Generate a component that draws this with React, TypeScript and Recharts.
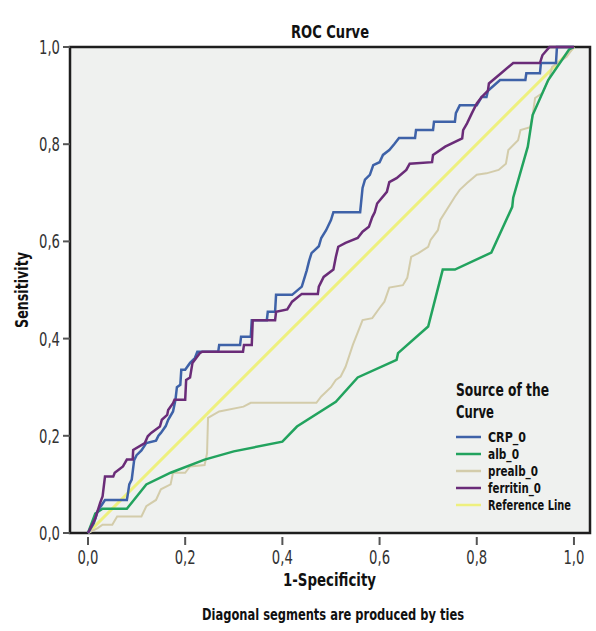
import { LineChart, Line, XAxis, YAxis, CartesianGrid, ReferenceArea } from "recharts";

// ROC points as [1-specificity, sensitivity]
const crpPoints: [number, number][] = [
  [0, 0], [0.012, 0.02], [0.02, 0.045], [0.035, 0.068], [0.08, 0.068], [0.082, 0.08],
  [0.085, 0.1], [0.09, 0.11], [0.095, 0.15], [0.1, 0.16], [0.11, 0.17], [0.12, 0.185],
  [0.14, 0.19], [0.145, 0.2], [0.15, 0.206], [0.16, 0.22], [0.165, 0.233], [0.175, 0.25],
  [0.18, 0.274], [0.183, 0.3], [0.19, 0.305], [0.192, 0.336], [0.2, 0.336], [0.21, 0.35],
  [0.22, 0.36], [0.225, 0.373], [0.268, 0.373], [0.27, 0.387], [0.313, 0.387], [0.315, 0.404],
  [0.335, 0.404], [0.337, 0.438], [0.368, 0.438], [0.37, 0.455], [0.385, 0.455], [0.387, 0.49],
  [0.42, 0.49], [0.44, 0.507], [0.45, 0.54], [0.455, 0.56], [0.46, 0.576], [0.475, 0.59],
  [0.48, 0.607], [0.49, 0.623], [0.5, 0.644], [0.505, 0.66], [0.56, 0.66], [0.565, 0.71],
  [0.57, 0.727], [0.58, 0.737], [0.587, 0.757], [0.6, 0.763], [0.607, 0.778], [0.62, 0.788],
  [0.63, 0.8], [0.64, 0.813], [0.673, 0.813], [0.675, 0.829], [0.71, 0.829], [0.712, 0.846],
  [0.755, 0.846], [0.757, 0.864], [0.765, 0.88], [0.8, 0.88], [0.81, 0.897], [0.82, 0.897],
  [0.823, 0.91], [0.848, 0.932], [0.9, 0.932], [0.902, 0.946], [0.93, 0.946], [0.932, 0.967],
  [0.963, 0.967], [0.965, 1], [1, 1],
];

const albPoints: [number, number][] = [
  [0, 0], [0.015, 0.04], [0.03, 0.05], [0.08, 0.05], [0.12, 0.1], [0.17, 0.124],
  [0.24, 0.151], [0.3, 0.168], [0.4, 0.188], [0.43, 0.219], [0.51, 0.27], [0.555, 0.32],
  [0.635, 0.356], [0.638, 0.37], [0.7, 0.425], [0.73, 0.542], [0.755, 0.542], [0.83, 0.577],
  [0.873, 0.671], [0.875, 0.69], [0.905, 0.795], [0.915, 0.86], [0.947, 0.932], [0.99, 0.995],
  [1, 1],
];

const prealbPoints: [number, number][] = [
  [0, 0], [0.02, 0.01], [0.03, 0.017], [0.05, 0.017], [0.06, 0.034], [0.11, 0.034],
  [0.12, 0.055], [0.14, 0.068], [0.15, 0.09], [0.17, 0.1], [0.175, 0.124], [0.2, 0.124],
  [0.21, 0.137], [0.24, 0.14], [0.245, 0.164], [0.247, 0.237], [0.27, 0.25], [0.32, 0.26],
  [0.335, 0.268], [0.47, 0.268], [0.48, 0.281], [0.5, 0.3], [0.51, 0.315], [0.52, 0.322],
  [0.53, 0.342], [0.545, 0.387], [0.56, 0.425], [0.565, 0.438], [0.585, 0.442], [0.6, 0.463],
  [0.61, 0.476], [0.62, 0.505], [0.648, 0.51], [0.657, 0.525], [0.665, 0.568], [0.68, 0.576],
  [0.7, 0.589], [0.705, 0.603], [0.72, 0.623], [0.725, 0.644], [0.755, 0.692], [0.765, 0.706],
  [0.78, 0.72], [0.8, 0.737], [0.82, 0.74], [0.845, 0.747], [0.86, 0.76], [0.865, 0.788],
  [0.885, 0.808], [0.89, 0.829], [0.91, 0.835], [0.915, 0.86], [0.92, 0.895], [0.935, 0.905],
  [0.95, 0.938], [0.955, 0.959], [0.985, 0.98], [1, 1],
];

const ferritinPoints: [number, number][] = [
  [0, 0], [0.015, 0.03], [0.025, 0.062], [0.03, 0.075], [0.035, 0.116], [0.052, 0.116],
  [0.055, 0.124], [0.072, 0.137], [0.08, 0.151], [0.092, 0.151], [0.093, 0.171], [0.117, 0.185],
  [0.123, 0.199], [0.13, 0.206], [0.148, 0.219], [0.152, 0.233], [0.163, 0.243], [0.165, 0.253],
  [0.175, 0.267], [0.178, 0.274], [0.2, 0.274], [0.202, 0.315], [0.21, 0.32], [0.215, 0.35],
  [0.23, 0.37], [0.235, 0.373], [0.319, 0.373], [0.321, 0.387], [0.337, 0.387], [0.339, 0.438],
  [0.385, 0.438], [0.387, 0.455], [0.41, 0.46], [0.42, 0.476], [0.44, 0.492], [0.473, 0.492],
  [0.475, 0.507], [0.485, 0.527], [0.505, 0.542], [0.51, 0.568], [0.515, 0.589], [0.53, 0.597],
  [0.555, 0.607], [0.565, 0.62], [0.578, 0.63], [0.585, 0.65], [0.59, 0.66], [0.595, 0.678],
  [0.615, 0.702], [0.62, 0.722], [0.635, 0.73], [0.655, 0.747], [0.662, 0.76], [0.708, 0.763],
  [0.71, 0.778], [0.735, 0.795], [0.77, 0.812], [0.772, 0.829], [0.78, 0.843], [0.79, 0.864],
  [0.8, 0.884], [0.81, 0.897], [0.823, 0.91], [0.825, 0.925], [0.85, 0.946], [0.875, 0.967],
  [0.93, 0.967], [0.935, 0.983], [0.948, 0.998], [0.95, 1], [1, 1],
];

const referencePoints: [number, number][] = [[0, 0], [1, 1]];

const xTicks = [0, 0.2, 0.4, 0.6, 0.8, 1];
const yTicks = [0, 0.2, 0.4, 0.6, 0.8, 1];

const toRows = (pts: [number, number][]) => pts.map(([x, y]) => ({ x, y }));

// draw order: reference underneath, ferritin on top
const series = [
  { name: "Reference Line", color: "#eef07e", width: 3, data: toRows(referencePoints) },
  { name: "prealb_0", color: "#d3ccaa", width: 2, data: toRows(prealbPoints) },
  { name: "alb_0", color: "#22a35e", width: 2.5, data: toRows(albPoints) },
  { name: "CRP_0", color: "#3e62a8", width: 2.5, data: toRows(crpPoints) },
  { name: "ferritin_0", color: "#6a2c78", width: 2.5, data: toRows(ferritinPoints) },
];
const legendOrder = ["CRP_0", "alb_0", "prealb_0", "ferritin_0", "Reference Line"];
// widths of the legend labels in the original (condensed face)
const legendWidths: Record<string, number> = {
  CRP_0: 38, alb_0: 31, prealb_0: 50, ferritin_0: 53, "Reference Line": 83,
};

const FONT = "'DejaVu Sans Condensed', 'Liberation Sans', sans-serif";
const fmt = (v: number) => v.toFixed(1).replace(".", ",");

// narrow text: squeeze glyphs to the width seen in the reference
const Narrow = ({ w, children, ...rest }: any) => (
  <text textLength={w} lengthAdjust="spacingAndGlyphs" {...rest}>
    {children}
  </text>
);

const XTick = (props: any) => {
  const { x, y, payload } = props;
  return (
    <g>
      <line x1={x} x2={x} y1={y + 4} y2={y + 12} stroke="#555" strokeWidth={2} />
      <Narrow w={21} x={x - 10.5} y={y + 31} fontFamily={FONT} fontSize={19} fill="#333">
        {fmt(payload.value)}
      </Narrow>
    </g>
  );
};

const YTick = (props: any) => {
  const { x, y, payload } = props;
  return (
    <Narrow w={21} x={x - 21} y={y + 7} fontFamily={FONT} fontSize={19} fill="#333">
      {fmt(payload.value)}
    </Narrow>
  );
};

export default function App() {
  return (
    <div style={{ position: "relative", width: 596, height: 631, background: "#fff" }}>
      <style>{"body{margin:0}"}</style>
      <LineChart width={596} height={631} margin={{ top: 47, right: 6, bottom: 48, left: 8 }}>
        <CartesianGrid horizontal={false} vertical={false} fill="#eff1ef" />
        <XAxis
          type="number"
          dataKey="x"
          domain={[-0.037, 1.033]}
          allowDataOverflow
          ticks={xTicks}
          axisLine={false}
          tickLine={false}
          tickSize={0}
          tickMargin={0}
          height={50}
          tick={<XTick />}
        />
        <YAxis
          type="number"
          domain={[0, 1]}
          ticks={yTicks}
          width={62}
          axisLine={false}
          tickSize={7}
          tickMargin={3}
          tickLine={{ stroke: "#555", strokeWidth: 2 }}
          tick={<YTick />}
        />
        {series.map((s) => (
          <Line
            key={s.name}
            data={s.data}
            dataKey="y"
            name={s.name}
            type="linear"
            stroke={s.color}
            strokeWidth={s.width}
            dot={false}
            activeDot={false}
            isAnimationActive={false}
          />
        ))}
        <ReferenceArea x1={-0.037} x2={1.033} y1={0} y2={1} fill="none" stroke="#1e1e1e" strokeWidth={2.5} />
      </LineChart>
      <svg
        width={596}
        height={631}
        style={{ position: "absolute", left: 0, top: 0, pointerEvents: "none" }}
        fontFamily={FONT}
        fontWeight="bold"
        fill="#111"
      >
        <Narrow w={78} x={291} y={38} fontSize={18}>ROC Curve</Narrow>
        <Narrow w={76} transform="translate(28,290) rotate(-90)" x={-38} y={0} fontSize={18}>Sensitivity</Narrow>
        <Narrow w={93} x={283} y={586} fontSize={17}>1-Specificity</Narrow>
        <Narrow w={262} x={202} y={620} fontSize={16}>Diagonal segments are produced by ties</Narrow>
        <Narrow w={93} x={456} y={396} fontSize={18}>Source of the</Narrow>
        <Narrow w={38} x={456} y={418} fontSize={18}>Curve</Narrow>
        {legendOrder.map((name, i) => {
          const s = series.find((d) => d.name === name)!;
          const by = 442 + i * 17;
          return (
            <g key={name}>
              <line x1={456} x2={481} y1={by - 5} y2={by - 5} stroke={s.color} strokeWidth={2.5} />
              <Narrow w={legendWidths[name]} x={488} y={by} fontSize={14}>{name}</Narrow>
            </g>
          );
        })}
      </svg>
    </div>
  );
}
